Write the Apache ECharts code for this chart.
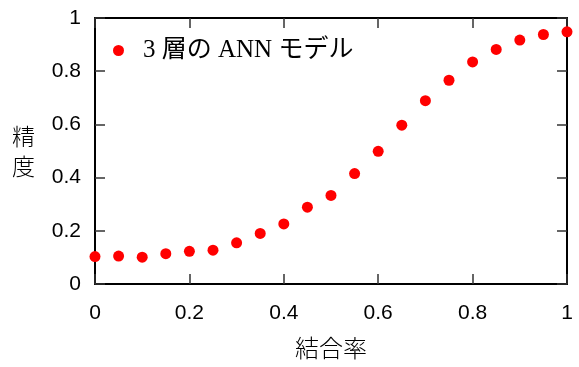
<!DOCTYPE html>
<html><head><meta charset="utf-8">
<script src="https://cdn.jsdelivr.net/npm/echarts@6/dist/echarts.min.js"></script>
<style>html,body{margin:0;padding:0;background:#fff}#c{width:579px;height:367px}</style>
</head><body><div id="c"></div>
<script>
var xValues = [0,0.05,0.1,0.15,0.2,0.25,0.3,0.35,0.4,0.45,0.5,0.55,0.6,0.65,0.7,0.75,0.8,0.85,0.9,0.95,1.0];
var accuracy = [0.103,0.105,0.101,0.114,0.123,0.127,0.155,0.190,0.226,0.289,0.333,0.415,0.499,0.597,0.689,0.766,0.835,0.882,0.917,0.938,0.948];
var seriesName = '3 層の ANN モデル';
var xName = '結合率';
var yName = '精\n度';

var data = xValues.map(function(x,i){return [x, accuracy[i]];});
var fmt = function(v){return String(+v.toFixed(1));};
function axLine(){return {show:true, onZero:false, lineStyle:{color:'#000', width:2}};}
function tick(){return {show:true, inside:true, length:10, lineStyle:{color:'#333', width:1.5}};}
function ax(pos, isMirror){
  var o = {type:'value', min:0, max:1, interval:0.2, position:pos, axisLine:axLine(), axisTick:tick(), splitLine:{show:false}};
  if (isMirror) o.axisLabel = {show:false};
  else o.axisLabel = {fontFamily:'Liberation Sans, Arial, sans-serif', fontSize:21, color:'#000', formatter:fmt};
  return o;
}
var xBottom = ax('bottom', false);
xBottom.axisLabel.margin = 19;
xBottom.name = xName; xBottom.nameLocation = 'middle'; xBottom.nameGap = 52;
xBottom.nameTextStyle = {fontFamily:'Noto Sans CJK JP', fontSize:24, color:'#000', fontWeight:300};
var yLeft = ax('left', false);
yLeft.axisLabel.margin = 14;
yLeft.name = yName; yLeft.nameLocation = 'middle'; yLeft.nameRotate = 0; yLeft.nameGap = 60;
yLeft.nameTextStyle = {fontFamily:'Noto Sans CJK JP', fontSize:23, color:'#000', fontWeight:300, lineHeight:30};

var chart = echarts.init(document.getElementById('c'));
chart.setOption({
  animation:false,
  grid:{left:95, right:12, top:18, bottom:83},
  legend:{
    show:true, left:108, top:33, data:[seriesName], itemWidth:11, itemHeight:11,
    textStyle:{fontFamily:'Liberation Serif, Noto Sans CJK JP, serif', fontSize:25, color:'#000', padding:[0,0,0,14]}
  },
  xAxis:[xBottom, ax('top', true)],
  yAxis:[yLeft, ax('right', true)],
  series:[{
    name:seriesName, type:'scatter', data:data, symbol:'circle', symbolSize:11,
    itemStyle:{color:'#ff0000', opacity:1}, xAxisIndex:0, yAxisIndex:0, z:5
  },{
    name:'mirror', type:'scatter', data:data, symbolSize:0, xAxisIndex:1, yAxisIndex:1
  }]
});
</script></body></html>
